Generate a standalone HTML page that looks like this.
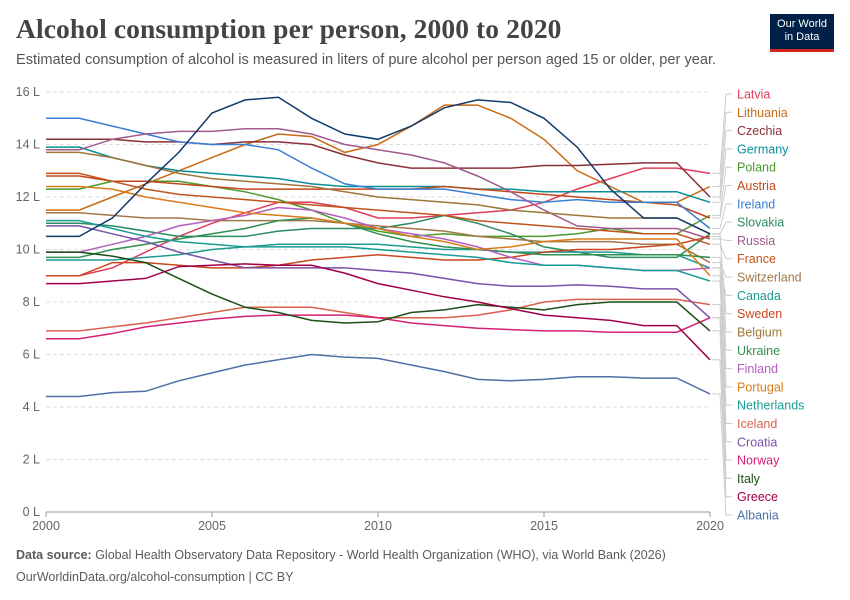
<!DOCTYPE html>
<html><head><meta charset="utf-8">
<style>
body{margin:0;background:#fff;font-family:"Liberation Sans",sans-serif;}
#wrap{position:relative;width:850px;height:600px;overflow:hidden;}
.title{position:absolute;left:16px;top:13px;font-family:"Liberation Serif",serif;font-size:27.5px;font-weight:bold;color:#444;letter-spacing:0.1px;}
.sub{position:absolute;left:16px;top:52px;font-size:14.6px;color:#555;}
.logo{position:absolute;left:770px;top:14px;width:64px;height:38px;background:#002147;color:#fff;font-size:11px;line-height:13px;text-align:center;padding-top:4px;box-sizing:border-box;border-bottom:3px solid #ce261e;}
.foot{position:absolute;left:16px;font-size:12.5px;color:#5b5b5b;}
</style></head><body>
<div id="wrap">
<div class="title">Alcohol consumption per person, 2000 to 2020</div>
<div class="sub">Estimated consumption of alcohol is measured in liters of pure alcohol per person aged 15 or older, per year.</div>
<div class="logo">Our World<br>in Data</div>
<svg id="chart" width="850" height="600" style="position:absolute;left:0;top:0"></svg>
<div class="foot" style="top:548px"><b>Data source:</b> Global Health Observatory Data Repository - World Health Organization (WHO), via World Bank (2026)</div>
<div class="foot" style="top:570px">OurWorldinData.org/alcohol-consumption | CC BY</div>
</div>
<script>
const years=[2000,2001,2002,2003,2004,2005,2006,2007,2008,2009,2010,2011,2012,2013,2014,2015,2016,2017,2018,2019,2020];
const yTicks=[0,2,4,6,8,10,12,14,16];
const xTicks=[2000,2005,2010,2015,2020];
const seriesNames=["Latvia","Lithuania","Czechia","Germany","Poland","Austria","Ireland","Slovakia","Russia","France","Switzerland","Canada","Sweden","Belgium","Ukraine","Finland","Portugal","Netherlands","Iceland","Croatia","Norway","Italy","Greece","Albania","Estonia"];
const seriesColors=["#e03d5a","#c96a14","#8a3037","#0a8f96","#4b9a2a","#c0491b","#3a7fd1","#2a8c5f","#a15a8c","#c0541d","#a2784a","#1e9a90","#c9461e","#a0763a","#2f8f50","#b35fc0","#d97c1a","#1a9c95","#d8634d","#7a52a8","#d41f74","#1d4d16","#a0004a","#4f6fa6","#123a6b"];
const latvia=[9.0,9.0,9.3,9.9,10.5,11.0,11.4,11.8,11.8,11.6,11.2,11.2,11.3,11.4,11.5,11.8,12.3,12.7,13.1,13.1,12.9];
const lithuania=[11.5,11.5,12.0,12.5,13.0,13.5,14.0,14.4,14.3,13.7,14.0,14.7,15.5,15.5,15.0,14.2,13.0,12.4,11.8,11.8,12.4];
const czechia=[14.2,14.2,14.2,14.1,14.1,14.0,14.1,14.1,14.0,13.6,13.3,13.1,13.1,13.1,13.1,13.2,13.2,13.25,13.3,13.3,12.0];
const germany=[13.9,13.9,13.5,13.2,13.0,12.9,12.8,12.7,12.5,12.4,12.4,12.4,12.4,12.3,12.3,12.2,12.2,12.2,12.2,12.2,11.8];
const poland=[12.3,12.3,12.6,12.6,12.6,12.4,12.2,11.9,11.5,11.0,10.7,10.5,10.6,10.5,10.5,10.5,10.6,10.8,10.6,10.6,11.3];
const austria=[12.8,12.8,12.6,12.6,12.5,12.4,12.3,12.3,12.3,12.3,12.3,12.3,12.4,12.3,12.2,12.1,12.0,11.9,11.8,11.7,11.2];
const ireland=[15.0,15.0,14.7,14.4,14.1,14.0,14.0,13.8,13.1,12.5,12.3,12.3,12.3,12.1,11.9,11.8,11.9,11.8,11.8,11.8,10.8];
const slovakia=[11.0,11.0,10.9,10.7,10.5,10.5,10.5,10.7,10.8,10.8,10.8,11.0,11.3,11.0,10.6,10.1,9.9,9.7,9.7,9.7,10.6];
const russia=[13.8,13.8,14.2,14.4,14.5,14.5,14.6,14.6,14.4,14.0,13.8,13.6,13.3,12.8,12.2,11.5,10.9,10.8,10.8,10.8,10.4];
const france=[12.9,12.9,12.6,12.3,12.1,12.0,11.9,11.8,11.7,11.6,11.5,11.4,11.3,11.1,11.0,10.9,10.8,10.7,10.6,10.6,10.2];
const switzerland=[11.4,11.4,11.3,11.2,11.2,11.1,11.1,11.1,11.1,11.0,10.9,10.8,10.7,10.5,10.4,10.3,10.3,10.3,10.2,10.2,9.5];
const canada=[9.6,9.6,9.6,9.7,9.8,10.0,10.1,10.2,10.2,10.2,10.2,10.1,10.0,10.0,9.9,9.9,9.9,9.9,9.8,9.8,9.3];
const sweden=[9.0,9.0,9.5,9.5,9.4,9.3,9.3,9.4,9.6,9.7,9.8,9.7,9.6,9.6,9.7,9.9,10.0,10.0,10.1,10.2,10.5];
const belgium=[13.7,13.7,13.5,13.2,12.9,12.7,12.6,12.5,12.4,12.2,12.0,11.9,11.8,11.7,11.5,11.4,11.3,11.2,11.2,11.2,10.6];
const ukraine=[9.7,9.7,10.0,10.2,10.4,10.6,10.8,11.1,11.2,11.0,10.6,10.3,10.1,10.0,9.9,9.8,9.8,9.8,9.8,9.8,9.7];
const finland=[9.9,9.9,10.2,10.5,10.9,11.1,11.3,11.6,11.5,11.2,10.8,10.6,10.4,10.1,9.7,9.4,9.4,9.3,9.2,9.2,9.3];
const portugal=[12.4,12.4,12.3,12.0,11.8,11.6,11.4,11.3,11.2,11.0,10.8,10.5,10.3,10.0,10.1,10.3,10.4,10.4,10.4,10.4,9.0];
const netherlands=[11.1,11.1,10.8,10.5,10.3,10.2,10.1,10.1,10.1,10.1,10.0,9.9,9.8,9.7,9.5,9.4,9.4,9.3,9.2,9.2,8.8];
const iceland=[6.9,6.9,7.05,7.2,7.4,7.6,7.8,7.8,7.8,7.6,7.4,7.4,7.4,7.5,7.7,8.0,8.1,8.1,8.1,8.1,7.9];
const croatia=[10.9,10.9,10.6,10.3,9.9,9.6,9.3,9.3,9.3,9.3,9.2,9.1,8.9,8.7,8.6,8.6,8.65,8.6,8.5,8.5,7.4];
const norway=[6.6,6.6,6.8,7.05,7.2,7.35,7.45,7.5,7.5,7.5,7.4,7.2,7.1,7.0,6.95,6.9,6.9,6.85,6.85,6.85,7.4];
const italy=[9.9,9.9,9.75,9.5,8.9,8.3,7.8,7.6,7.3,7.2,7.25,7.6,7.7,7.9,7.8,7.7,7.9,8.0,8.0,8.0,6.9];
const greece=[8.7,8.7,8.8,8.9,9.35,9.4,9.45,9.4,9.4,9.1,8.7,8.45,8.2,8.0,7.75,7.5,7.4,7.3,7.1,7.1,5.8];
const albania=[4.4,4.4,4.55,4.6,5.0,5.3,5.6,5.8,6.0,5.9,5.85,5.6,5.35,5.05,5.0,5.05,5.15,5.15,5.1,5.1,4.5];
const estonia=[10.5,10.5,11.2,12.5,13.7,15.2,15.7,15.8,15.0,14.4,14.2,14.7,15.4,15.7,15.6,15.0,13.9,12.3,11.2,11.2,10.6];
const seriesValues=[latvia,lithuania,czechia,germany,poland,austria,ireland,slovakia,russia,france,switzerland,canada,sweden,belgium,ukraine,finland,portugal,netherlands,iceland,croatia,norway,italy,greece,albania,estonia];

const NS="http://www.w3.org/2000/svg";
const svg=document.getElementById('chart');
const X0=46,X1=710,Y0=512,Y1=92;
function xS(yr){return X0+(yr-2000)/20*(X1-X0);}
function yS(v){return Y0-v/16*(Y0-Y1);}
function mk(t,a){const e=document.createElementNS(NS,t);for(const k in a)e.setAttribute(k,a[k]);svg.appendChild(e);return e;}
yTicks.forEach(v=>{
  const g=mk('line',{x1:X0,x2:X1,y1:yS(v),y2:yS(v),stroke:v===0?'#999':'#ddd','stroke-dasharray':v===0?'':'4,3'});
  
  
  const t=mk('text',{x:40,y:yS(v)+4,'text-anchor':'end','font-size':'12.5','fill':'#666','font-family':'Liberation Sans'});
  t.textContent=v+' L';
  
  
});
xTicks.forEach(yr=>{
  const tk=mk('line',{x1:xS(yr),x2:xS(yr),y1:Y0,y2:Y0+5,stroke:'#999'});
  
  
  const t=mk('text',{x:xS(yr),y:530,'text-anchor':'middle','font-size':'12.5','fill':'#666','font-family':'Liberation Sans'});
  t.textContent=yr;
  
  
});
seriesValues.forEach((vals,i)=>{
  const d=vals.map((v,j)=>(j?'L':'M')+xS(years[j]).toFixed(1)+','+yS(v).toFixed(1)).join(' ');
  const p=mk('path',{d:d,fill:'none',stroke:seriesColors[i],'stroke-width':1.5});
  
  
});
const nLab=24;
for(let i=0;i<nLab;i++){
  const ly=94+i*(515-94)/(nLab-1);
  const ey=yS(seriesValues[i][20]);
  const c=mk('path',{d:`M${X1+2},${ey} L${720},${ey} L${726},${ly} L${732},${ly}`,fill:'none',stroke:'#ccc','stroke-width':1});
  
  
  const t=mk('text',{x:737,y:ly+4.5,'font-size':'12.5','fill':seriesColors[i],'font-family':'Liberation Sans'});
  t.textContent=seriesNames[i];
  
  
}
</script>
</body></html>
